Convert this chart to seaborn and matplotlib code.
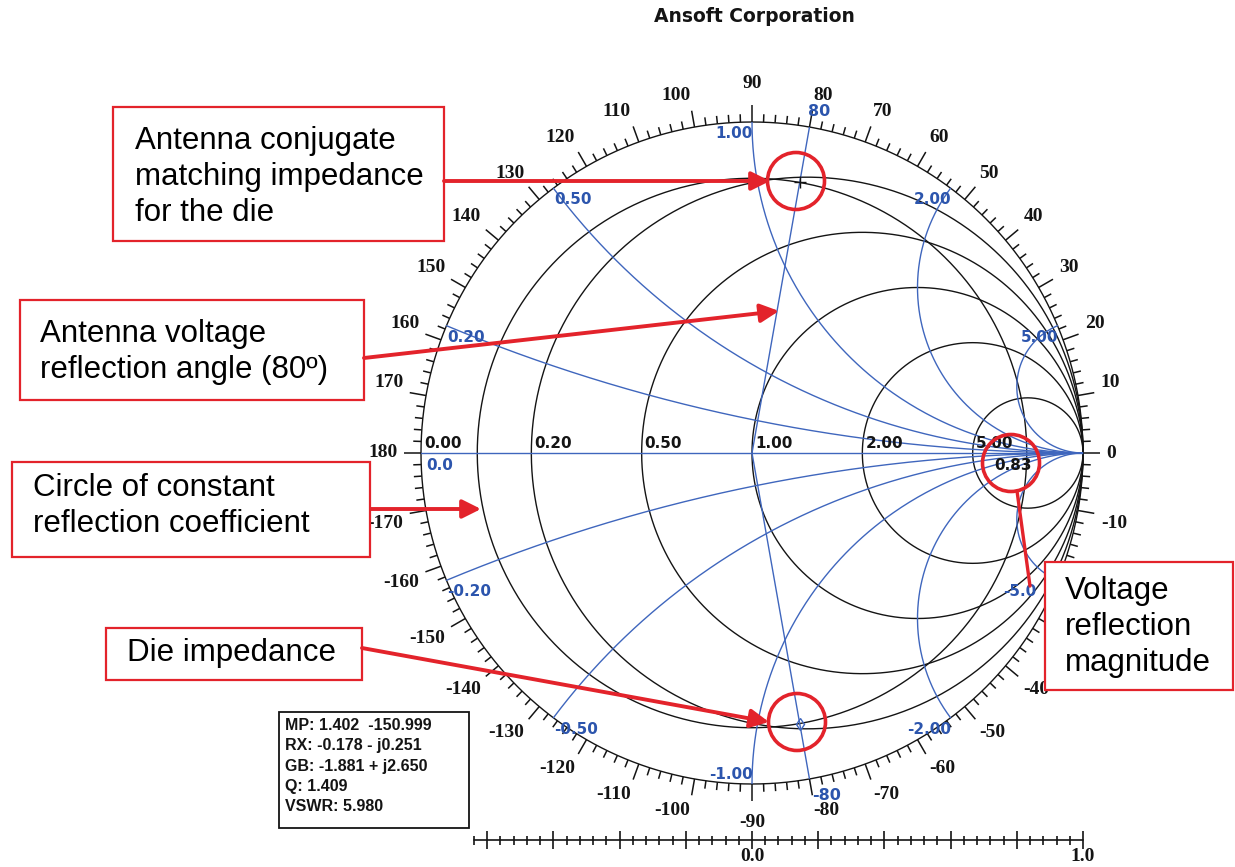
import numpy as np
import pandas as pd
import matplotlib
matplotlib.use("Agg")
import matplotlib.pyplot as plt
import seaborn as sns
from matplotlib.patches import Rectangle, Circle
from matplotlib.collections import LineCollection

# ---- chart values -------------------------------------------------------
resistances = [0.0, 0.2, 0.5, 1.0, 2.0, 5.0]
resistance_labels = ["0.00", "0.20", "0.50", "1.00", "2.00", "5.00"]
reactances = [0.2, 0.5, 1.0, 2.0, 5.0]
reactance_labels_pos = ["0.20", "0.50", "1.00", "2.00", "5.00"]
reactance_labels_neg = ["-0.20", "-0.50", "-1.00", "-2.00", "-5.0"]
gamma_magnitude = 0.83
gamma_angle_deg = 80
angle_labels = list(range(-170, 181, 10))
readout_lines = ["MP: 1.402  -150.999", "RX: -0.178 - j0.251",
                 "GB: -1.881 + j2.650", "Q: 1.409", "VSWR: 5.980"]
scale_start, scale_stop, scale_step, scale_major = -0.84, 1.0, 0.04, 0.2
scale_labels = {0.0: "0.0", 1.0: "1.0"}

# ---- page geometry (pixels) ---------------------------------------------
W, H = 1235, 867
CX, CY, R = 752, 453, 331


def P(x, y):
    """pixel position -> reflection-plane coordinates"""
    return ((x - CX) / R, (CY - y) / R)


BLACK = "#141414"
BLUE_LINE = "#3f66bd"
BLUE_TEXT = "#2c55ad"
RED = "#e3232b"

sns.set_theme(style="white")
plt.rcParams["font.family"] = ["DejaVu Sans"]

fig = plt.figure(figsize=(W / 100, H / 100), dpi=100)
ax = fig.add_axes([0, 0, 1, 1])

# ---- grid curves --------------------------------------------------------
t = np.linspace(0, 2 * np.pi, 1441)
rr = np.concatenate([[0.0], np.logspace(-3, 4.5, 900)])
frames = []


def add(name, gx, gy, kind):
    frames.append(pd.DataFrame({"gx": gx, "gy": gy, "curve": name, "kind": kind}))


for r in resistances:
    c, rad = r / (1 + r), 1 / (1 + r)
    add(f"r{r}", c + rad * np.cos(t), rad * np.sin(t), "resistance")
add("gamma", gamma_magnitude * np.cos(t), gamma_magnitude * np.sin(t), "resistance")

for x in reactances:
    for s in (1, -1):
        z = rr + 1j * s * x
        g = (z - 1) / (z + 1)
        add(f"x{s * x}", g.real, g.imag, "reactance")
add("x0", [-1.0, 1.0], [0.0, 0.0], "reactance")
for s in (1, -1):
    a = np.deg2rad(s * gamma_angle_deg)
    add(f"ang{s}", [0.0, np.cos(a)], [0.0, np.sin(a)], "reactance")

df = pd.concat(frames, ignore_index=True)
sns.lineplot(data=df[df.kind == "resistance"], x="gx", y="gy", units="curve",
             estimator=None, sort=False, color=BLACK, lw=1.0, ax=ax, legend=False)
sns.lineplot(data=df[df.kind == "reactance"], x="gx", y="gy", units="curve",
             estimator=None, sort=False, color=BLUE_LINE, lw=1.0, ax=ax, legend=False)

# ---- callout boxes (pixel corners) -------------------------------------------
callouts = [
    ("Antenna conjugate\nmatching impedance\nfor the die", (113, 107, 444, 241), 135, 177),
    ("Antenna voltage\nreflection angle (80º)", (20, 300, 364, 400), 40, 352),
    ("Circle of constant\nreflection coefficient", (12, 462, 370, 557), 33, 506),
    ("Die impedance", (106, 628, 362, 680), 127, 653),
    ("Voltage\nreflection\nmagnitude", (1045, 562, 1233, 690), 1065, 627),
]


def under_callout(px, py):
    return any(b[0] - 8 <= px <= b[2] + 8 and b[1] - 8 <= py <= b[3] + 8
               for _, b, _, _ in callouts)


# ---- angle scale on the rim -----------------------------------------------
segs = []
for d in range(-180, 180, 2):
    a = np.deg2rad(d)
    L = 0.05 if d % 10 == 0 else 0.024
    segs.append([(np.cos(a), np.sin(a)), ((1 + L) * np.cos(a), (1 + L) * np.sin(a))])
ax.add_collection(LineCollection(segs, colors=BLACK, lw=1.1))

for d in angle_labels:
    a = np.deg2rad(d)
    c, s = np.cos(a), np.sin(a)
    lr = 1.09 if abs(c) < 0.05 else 1.07
    if under_callout(CX + R * lr * c, CY - R * lr * s):
        continue
    ha = "center" if abs(c) < 0.05 else ("left" if c > 0 else "right")
    va = "center" if abs(s) < 0.05 else ("bottom" if s > 0 else "top")
    ax.text(lr * c, lr * s, str(d), ha=ha, va=va, fontsize=14,
            family="Liberation Serif", weight="bold", color=BLACK)

# ---- resistance labels along the real axis -------------------------------
for r, lab in zip(resistances, resistance_labels):
    left = (r - 1) / (r + 1)
    ax.text(left + 3 / R, 2 / R, lab, ha="left", va="bottom", fontsize=11,
            weight="bold", color=BLACK)
ax.text(*P(1032, 465), f"{gamma_magnitude:.2f}", ha="right", va="center",
        fontsize=11, weight="bold", color=BLACK)
ax.text(*P(426, 458), "0.0", ha="left", va="top", fontsize=11,
        weight="bold", color=BLUE_TEXT)

# ---- reactance labels at the rim ----------------------------------------
for x, lp, ln in zip(reactances, reactance_labels_pos, reactance_labels_neg):
    for s, lab in ((1, lp), (-1, ln)):
        z = 1j * s * x
        g = (z - 1) / (z + 1)
        ha = "left" if g.real < -0.05 else "right"
        gx = g.real + 1 / R
        if s < 0 and x == 1.0:
            ax.text(gx, g.imag + 2 / R, lab, ha=ha, va="bottom", fontsize=11,
                    weight="bold", color=BLUE_TEXT)
            continue
        # keep the label clear of the callout box on the right
        while under_callout(CX + R * gx, CY - R * (g.imag - 10 / R)):
            gx -= 1 / R
        ax.text(gx, g.imag - 4 / R, lab, ha=ha, va="top", fontsize=11,
                weight="bold", color=BLUE_TEXT)

a = np.deg2rad(gamma_angle_deg)
ax.text(np.cos(a) - 1 / R, np.sin(a) + 8 / R, str(gamma_angle_deg), ha="left",
        va="bottom", fontsize=11.5, weight="bold", color=BLUE_TEXT)
ax.text(np.cos(a) + 3 / R, -np.sin(a) - 9 / R, str(-gamma_angle_deg), ha="left",
        va="top", fontsize=11.5, weight="bold", color=BLUE_TEXT)

# ---- markers at the two points of interest --------------------------------
ax.plot(gamma_magnitude * np.cos(a), gamma_magnitude * np.sin(a), marker="+",
        ms=8, mew=1.0, color=BLACK)
ax.plot(gamma_magnitude * np.cos(a), -gamma_magnitude * np.sin(a), marker="d",
        ms=6, mew=1.0, mfc="none", color=BLUE_LINE)

# ---- magnitude scale under the chart ---------------------------------------
ys = P(0, 840)[1]
ax.plot([scale_start, scale_stop], [ys, ys], color=BLACK, lw=1.2)
vals = np.round(np.arange(scale_start, scale_stop + 1e-9, scale_step), 2)
tsegs = []
for v in vals:
    major = abs(v / scale_major - round(v / scale_major)) < 1e-6
    L = (9 if major else 4.5) / R
    tsegs.append([(v, ys - L), (v, ys + L)])
ax.add_collection(LineCollection(tsegs, colors=BLACK, lw=1.2))
for v, lab in scale_labels.items():
    ax.text(v, ys - 8 / R, lab, ha="center", va="top", fontsize=14,
            family="Liberation Serif", weight="bold", color=BLACK)

# ---- readout box ----------------------------------------------------------
x0, y0 = P(279, 828)
x1, y1 = P(469, 712)
ax.add_patch(Rectangle((x0, y0), x1 - x0, y1 - y0, fill=True, fc="white",
                       ec=BLACK, lw=1.3, zorder=5))
ax.text(*P(285, 766), "\n".join(readout_lines), ha="left", va="center",
        fontsize=11.5, family="Liberation Sans", weight="bold",
        linespacing=1.45, color=BLACK, zorder=6)

# ---- title -----------------------------------------------------------------
ax.text(*P(754, 16), "Ansoft Corporation", ha="center", va="center",
        fontsize=13.5, weight="bold", color=BLACK)

# ---- callouts ---------------------------------------------------------------
for text, (bx0, by0, bx1, by1), tx, ty in callouts:
    lx, ly = P(bx0, by1)
    rx, ry = P(bx1, by0)
    ax.add_patch(Rectangle((lx, ly), rx - lx, ry - ly, fill=True, fc="white",
                           ec=RED, lw=1.6, zorder=7))
    ax.text(*P(tx, ty), text, ha="left", va="center", fontsize=22.5,
            family="Liberation Sans", color="black", linespacing=1.27, zorder=8)

arrows = [((444, 181), (770, 181)),
          ((364, 358), (779, 311)),
          ((371, 509), (481, 509)),
          ((362, 648), (769, 722))]
for start, end in arrows:
    ax.annotate("", xy=P(*end), xytext=P(*start),
                arrowprops=dict(arrowstyle="-|>", color=RED, lw=2.8,
                                mutation_scale=28, shrinkA=0, shrinkB=0),
                zorder=9)
ax.plot(*zip(P(1017, 491), P(1030, 586)), color=RED, lw=2.4, zorder=9)

for cx, cy in [(796, 181), (797, 722), (1011, 463)]:
    ax.add_patch(Circle(P(cx, cy), 28.5 / R, fill=False, ec=RED, lw=2.6, zorder=9))

ax.set_xlim(P(0, 0)[0], P(W, 0)[0])
ax.set_ylim(P(0, H)[1], P(0, 0)[1])
ax.axis("off")

fig.savefig("out.png", dpi=100, facecolor="white")
